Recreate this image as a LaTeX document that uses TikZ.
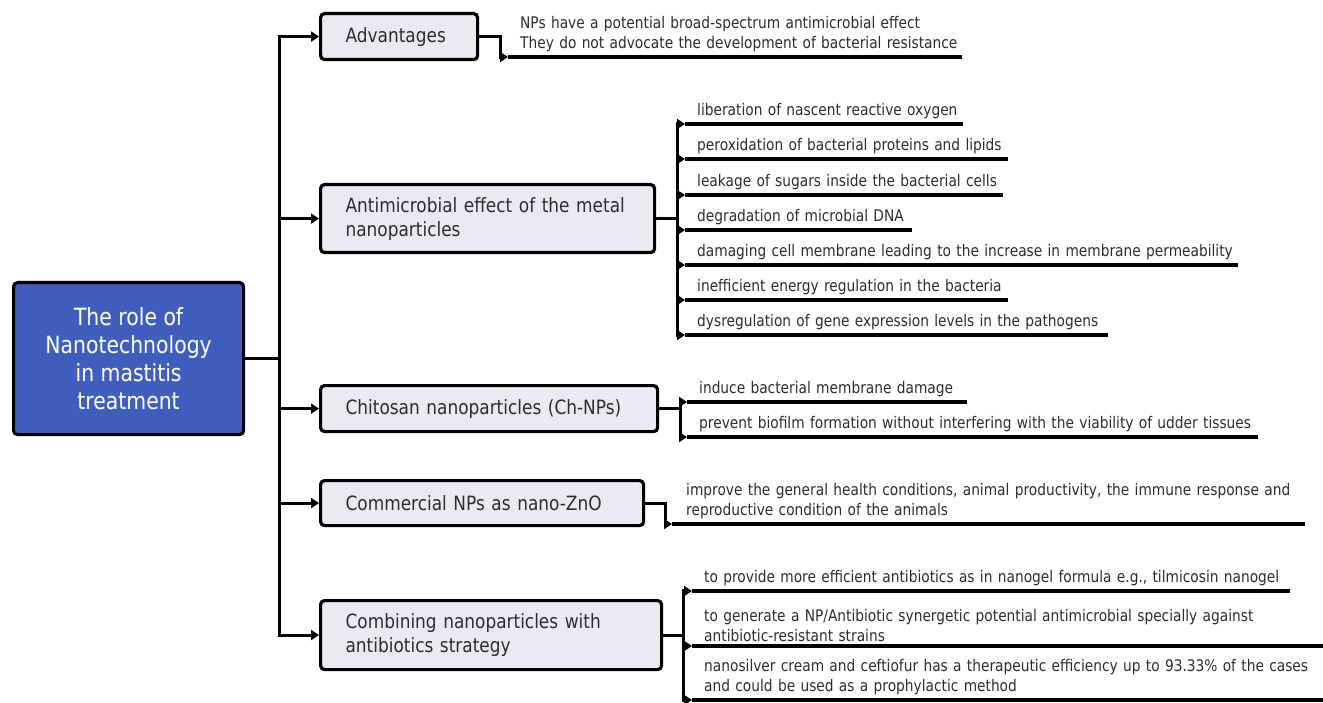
\documentclass[tikz,border=0pt]{standalone}
\usepackage{fontspec}
\setmainfont[FakeStretch=0.86]{DejaVu Sans}
\usetikzlibrary{arrows.meta}
\definecolor{mainblue}{RGB}{64,94,190}
\definecolor{boxfill}{RGB}{234,234,243}
\definecolor{txt}{RGB}{45,45,45}
\newcommand{\oneline}[1]{\mbox{#1}}
\begin{document}
\begin{tikzpicture}[x=1pt,y=-1pt,
  conn/.style={line width=3.2pt},
  arr/.style={conn,-{Triangle[length=8pt,width=10pt]}},
  box/.style={draw, line width=3.2pt, rounded corners=4pt, fill=boxfill, text=txt, font=\fontsize{19.7}{24}\selectfont, align=left, anchor=north west, inner xsep=25pt, inner ysep=0pt},
  item/.style={anchor=south west, align=left, text=txt, font=\fontsize{16}{20}\selectfont, inner xsep=12pt, inner ysep=4.5pt},
  uline/.style={line width=3.2pt}]
\useasboundingbox (0,0) rectangle (1323,703);

% main node
\node[draw, line width=3.2pt, rounded corners=4pt, fill=mainblue, text=white, align=center,
  font=\fontsize{23.7}{28}\selectfont, minimum width=230, minimum height=152, anchor=north west, inner sep=0pt]
  (main) at (12,281) {The role of\\Nanotechnology\\in mastitis\\treatment};

% category boxes
\node[box, minimum width=157, minimum height=46, text width=107] (b1) at (319,12) {Advantages};
\node[box, minimum width=334, minimum height=68, text width=284] (b2) at (319,183) {Antimicrobial effect of the metal\\nanoparticles};
\node[box, minimum width=337, minimum height=46, text width=287] (b3) at (319,384) {Chitosan nanoparticles (Ch-NPs)};
\node[box, minimum width=323, minimum height=45, text width=273] (b4) at (319,479) {Commercial NPs as nano-ZnO};
\node[box, minimum width=341, minimum height=69, text width=291] (b5) at (319,599) {Combining nanoparticles with\\antibiotics strategy};

% trunk
\path (main.east) ++(34,0) coordinate (tr);
\draw[conn] (main.east) -- (tr);
\foreach \b in {b1,b2,b3,b4,b5} { \draw[arr] (tr) |- (\b.west); }

% Advantages
\node[item, text width=430] (a1) at (508,57) {\oneline{NPs have a potential broad-spectrum antimicrobial effect}\\\oneline{They do not advocate the development of bacterial resistance}};
\draw[arr] (b1.east) -- ++(21,0) |- (a1.south west);
\draw[uline] (a1.south west) -- (a1.south east);

% Antimicrobial effect
\path (b2.east) ++(21,0) coordinate (bus2);
\draw[conn] (b2.east) -- (bus2);
\node[item, text width=254] (m1) at (685,124) {\oneline{liberation of nascent reactive oxygen}};
\node[item, text width=299] (m2) at (685,159) {\oneline{peroxidation of bacterial proteins and lipids}};
\node[item, text width=294] (m3) at (685,195) {\oneline{leakage of sugars inside the bacterial cells}};
\node[item, text width=203] (m4) at (685,230) {\oneline{degradation of microbial DNA}};
\node[item, text width=529] (m5) at (685,265) {\oneline{damaging cell membrane leading to the increase in membrane permeability}};
\node[item, text width=299] (m6) at (685,300) {\oneline{inefficient energy regulation in the bacteria}};
\node[item, text width=399] (m7) at (685,335) {\oneline{dysregulation of gene expression levels in the pathogens}};
\foreach \m in {m1,m2,m3,m4,m5,m6,m7} {
  \draw[arr] (bus2) |- (\m.south west);
  \draw[uline] (\m.south west) -- (\m.south east);
}

% Chitosan
\path (b3.east) ++(21,0) coordinate (bus3);
\draw[conn] (b3.east) -- (bus3);
\node[item, text width=256] (c1) at (687,402) {\oneline{induce bacterial membrane damage}};
\node[item, text width=547] (c2) at (687,437) {\oneline{prevent biofilm formation without interfering with the viability of udder tissues}};
\foreach \m in {c1,c2} {
  \draw[arr] (bus3) |- (\m.south west);
  \draw[uline] (\m.south west) -- (\m.south east);
}

% Commercial
\node[item, inner xsep=14pt, text width=605] (z1) at (672,524) {\oneline{improve the general health conditions, animal productivity, the immune response and}\\\oneline{reproductive condition of the animals}};
\draw[arr] (b4.east) -- ++(20,0) |- (z1.south west);
\draw[uline] (z1.south west) -- (z1.south east);

% Combining
\path (b5.east) ++(20,0) coordinate (bus5);
\draw[conn] (b5.east) -- (bus5);
\node[item, text width=574] (d1) at (692,591) {\oneline{to provide more efficient antibiotics as in nanogel formula e.g., tilmicosin nanogel}};
\node[item, text width=607] (d2) at (692,646) {\oneline{to generate a NP/Antibiotic synergetic potential antimicrobial specially against}\\\oneline{antibiotic-resistant strains}};
\node[item, text width=607] (d3) at (692,700) {\oneline{nanosilver cream and ceftiofur has a therapeutic efficiency up to 93.33\% of the cases}\\\oneline{and could be used as a prophylactic method}};
\foreach \m in {d1,d2,d3} {
  \draw[arr] (bus5) |- (\m.south west);
  \draw[uline] (\m.south west) -- (\m.south east);
}
\end{tikzpicture}
\end{document}
